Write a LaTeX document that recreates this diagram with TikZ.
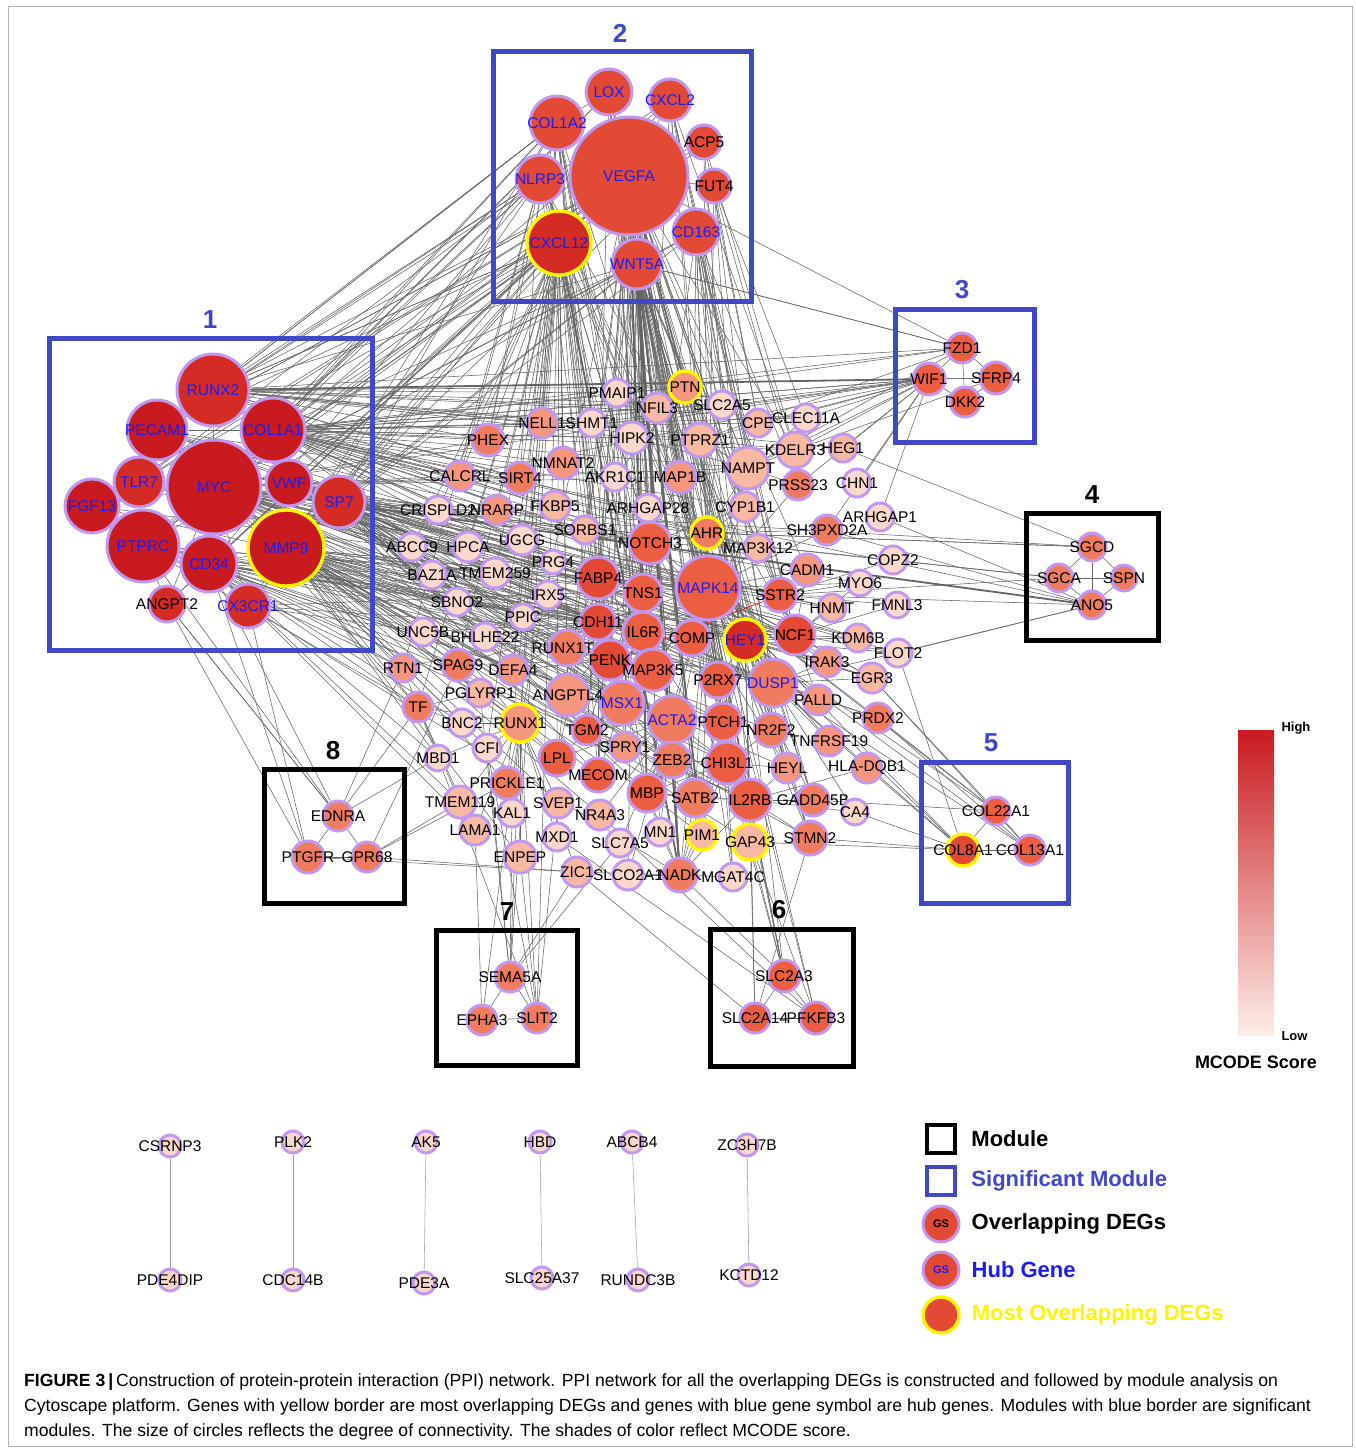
\documentclass[tikz,border=0pt]{standalone}
\usepackage{fontspec}
\setmainfont{Liberation Sans}
\usetikzlibrary{positioning}

\definecolor{modblue}{RGB}{64,72,200}
\definecolor{hubblue}{RGB}{28,28,240}
\definecolor{lav}{RGB}{192,152,240}
\definecolor{yel}{RGB}{255,245,0}
\definecolor{edgegray}{RGB}{100,100,100}
\definecolor{s1}{HTML}{C91A1F}
\definecolor{s2}{HTML}{D42B25}
\definecolor{s3}{HTML}{E24A35}
\definecolor{s4}{HTML}{EC5E42}
\definecolor{s5}{HTML}{F07C60}
\definecolor{s6}{HTML}{F4977E}
\definecolor{s7}{HTML}{F7B8A4}
\definecolor{s8}{HTML}{FAD8CC}

\pgfdeclarelayer{bg}
\pgfsetlayers{bg,main}

\begin{document}
\begin{tikzpicture}[x=1pt,y=-1pt,
    gn/.style={circle,draw=lav,line width=3pt,inner sep=0pt},
    yb/.style={draw=yel,line width=3.4pt},
    lb/.style={font=\fontsize{15.5}{17}\selectfont,inner sep=0pt},
    hublb/.style={lb,text=hubblue},
    module/.style={draw=black,line width=5pt},
    sigmodule/.style={draw=modblue,line width=5pt},
    modnum/.style={font=\bfseries\fontsize{26}{28}\selectfont},
    link/.style={draw=edgegray,line width=0.55pt},
    bond/.style={draw=edgegray,line width=1.8pt},
    legtxt/.style={font=\bfseries\fontsize{22}{24}\selectfont,anchor=west,inner sep=0pt},
    captxt/.style={font=\fontsize{17.6}{19}\selectfont,anchor=west,inner sep=0pt}]

\useasboundingbox (0,0) rectangle (1356,1448);
\draw[gray!60,line width=0.8pt] (8,6) rectangle (1352,1446);

% modules
\draw[sigmodule] (49,338) rectangle (372,650);
\draw[sigmodule] (493,51) rectangle (751,301);
\draw[sigmodule] (895,309) rectangle (1034,442);
\draw[module] (1026,513) rectangle (1158,640);
\draw[sigmodule] (921,762) rectangle (1068,903);
\draw[module] (710,929) rectangle (853,1066);
\draw[module] (436,930) rectangle (577,1065);
\draw[module] (264,769) rectangle (404,903);
\node[modnum,text=modblue] (n1) at (210,320) {1};
\node[modnum,text=modblue] (n2) at (620,33) {2};
\node[modnum,text=modblue] (n3) at (962,290) {3};
\node[modnum] (n4) at (1092,495) {4};
\node[modnum,text=modblue] (n5) at (991,743) {5};
\node[modnum] (n6) at (779,910) {6};
\node[modnum] (n7) at (507,912) {7};
\node[modnum] (n8) at (333,751) {8};

% hub genes
\foreach \g/\x/\y/\d/\c in {RUNX2/213/390/72/s2, PECAM1/157/430/60/s1,
    COL1A1/273/430/64/s1, TLR7/139/482/50/s2, MYC/214/487/94/s1,
    VWF/289/483/46/s1, SP7/339/502/52/s2, FGF13/92/506/54/s1,
    PTPRC/143/546/72/s1, CD34/209/564/56/s1, CX3CR1/248/606/44/s2,
    LOX/609/92/46/s3, CXCL2/670/100/42/s3, COL1A2/557/123/54/s3,
    VEGFA/629/176/118/s3, NLRP3/540/179/48/s3, CD163/696/232/46/s3,
    WNT5A/637/264/50/s3, MAPK14/708/588/64/s4, DUSP1/773/683/48/s5,
    MSX1/622/703/44/s5, ACTA2/672/720/48/s5}
  \node[gn,minimum size=\d,fill=\c,label={[hublb]center:\g}] (\g) at (\x,\y) {};
\foreach \g/\x/\y/\d/\c in {MMP9/286/548/76/s1, CXCL12/559/243/64/s2, HEY1/745/640/42/s2}
  \node[gn,yb,minimum size=\d,fill=\c,label={[hublb]center:\g}] (\g) at (\x,\y) {};

% most overlapping DEGs
\foreach \g/\x/\y/\d/\c in {PTN/685/387/32/s6, AHR/707/533/32/s5, RUNX1/520/723/38/s6,
    PIM1/702/835/30/s7, GAP43/750/842/36/s7, COL8A1/963/850/32/s3}
  \node[gn,yb,minimum size=\d,fill=\c,label={[lb]center:\g}] (\g) at (\x,\y) {};

% other genes
\foreach \g/\x/\y/\d/\c in {ANGPT2/167/604/36/s2, ACP5/704/142/34/s3, FUT4/714/186/34/s3,
    FZD1/962/348/30/s4, WIF1/929/379/32/s4, SFRP4/996/378/32/s4, DKK2/965/402/30/s4,
    SGCD/1092/547/28/s5, SGCA/1059/578/28/s5, SSPN/1124/578/26/s5, ANO5/1092/605/28/s5,
    COL22A1/996/811/28/s4, COL13A1/1030/850/30/s4,
    SLC2A3/784/976/32/s4, SLC2A14/755/1018/30/s4, PFKFB3/816/1018/32/s4,
    SEMA5A/510/977/30/s5, EPHA3/482/1020/30/s5, SLIT2/537/1018/30/s5,
    EDNRA/338/816/30/s5, PTGFR/308/857/32/s5, GPR68/367/857/30/s5,
    PMAIP1/617/393/28/s8, NFIL3/657/408/30/s7, NELL1/542/423/30/s6,
    SHMT1/592/423/28/s8, HIPK2/632/438/32/s8, PHEX/488/440/32/s5,
    NMNAT2/563/463/32/s6, CALCRL/460/476/30/s6, SIRT4/520/478/32/s5,
    AKR1C1/615/477/28/s8, MAP1B/680/477/32/s6, CRISPLD2/438/510/28/s8,
    NRARP/497/510/30/s6, FKBP5/555/506/30/s7, ARHGAP28/648/508/28/s8,
    SORBS1/585/530/28/s7, ABCC9/412/547/28/s8, HPCA/468/547/30/s8,
    UGCG/522/540/30/s8, NOTCH3/650/543/42/s4, PRG4/553/562/24/s8,
    SLC2A5/722/405/28/s8, CPE/758/423/28/s7, CLEC11A/806/418/28/s8,
    PTPRZ1/700/440/34/s7, KDELR3/795/450/36/s7, HEG1/843/448/28/s7,
    NAMPT/748/468/42/s7, PRSS23/798/485/30/s5, CHN1/857/483/28/s8,
    CYP1B1/745/507/30/s7, ARHGAP1/880/517/28/s8, SH3PXD2A/827/530/30/s5,
    MAP3K12/758/548/28/s7, COPZ2/893/560/28/s8, CADM1/807/570/32/s6,
    MYO6/860/583/26/s8, SSTR2/780/595/34/s4, HNMT/832/608/28/s7,
    FMNL3/897/605/26/s8, BAZ1A/432/575/28/s8, TMEM259/495/573/30/s8,
    FABP4/598/578/42/s3, TNS1/643/593/38/s4, IRX5/548/595/28/s8,
    SBNO2/457/602/28/s8, PPIC/523/617/26/s8, CDH11/598/622/36/s3,
    IL6R/643/632/40/s4, UNC5B/423/632/28/s8, BHLHE22/485/637/28/s8,
    RUNX1T1/567/648/36/s5, PENK/610/660/40/s3, COMP/692/638/36/s4,
    NCF1/795/635/40/s3, KDM6B/858/638/28/s7, FLOT2/898/653/28/s8,
    IRAK3/827/662/30/s6, MAP3K5/653/670/42/s4, RTN1/403/668/28/s6,
    SPAG9/458/665/32/s5, DEFA4/513/670/30/s6, P2RX7/718/680/36/s4,
    EGR3/872/678/30/s7, PALLD/818/700/30/s6, PRDX2/878/718/30/s5,
    PGLYRP1/480/693/28/s7, ANGPTL4/568/695/42/s6, PTCH1/723/722/38/s4,
    NR2F2/771/730/34/s5, TNFRSF19/829/741/30/s6, TF/418/707/30/s5,
    BNC2/462/723/28/s8, TGM2/587/730/30/s4, SPRY1/625/747/30/s6,
    ZEB2/672/760/36/s5, CHI3L1/727/763/42/s4, HEYL/787/768/30/s6,
    CFI/487/748/28/s8, MBD1/438/758/26/s8, LPL/557/758/36/s4,
    MECOM/598/775/34/s4, PRICKLE1/507/783/32/s5, MBP/647/793/38/s4,
    SATB2/695/798/38/s5, IL2RB/750/800/42/s4, GADD45B/813/800/32/s5,
    CA4/855/812/26/s8, TMEM119/460/802/32/s7, SVEP1/558/803/30/s7,
    KAL1/512/813/28/s8, NR4A3/600/815/30/s7, LAMA1/475/830/30/s7,
    MXD1/557/837/28/s8, SLC7A5/620/843/28/s8, MN1/660/832/28/s8,
    STMN2/810/838/34/s5, ENPEP/520/857/32/s7, ZIC1/577/872/30/s7,
    SLCO2A1/628/875/30/s8, NADK/680/875/34/s5, MGAT4C/733/877/28/s8}
  \node[gn,minimum size=\d,fill=\c,label={[lb]center:\g}] (\g) at (\x,\y) {};
\node[gn,minimum size=30,fill=s6,label={[lb]center:HLA-DQB1}] (HLADQB1) at (867,768) {};

% unconnected pairs
\foreach \g/\x/\y in {CSRNP3/170/1146, PDE4DIP/170/1280, PLK2/293/1142, CDC14B/293/1280,
    AK5/426/1142, PDE3A/424/1283, HBD/540/1142, SLC25A37/542/1278,
    ABCB4/632/1142, RUNDC3B/638/1280, ZC3H7B/747/1145, KCTD12/749/1275}
  \node[gn,minimum size=22,fill=s8,label={[lb]center:\g}] (\g) at (\x,\y) {};

\begin{pgfonlayer}{bg}
\foreach \a/\bs in {
  MYC/{RUNX2,PECAM1,COL1A1,TLR7,VWF,SP7,FGF13,PTPRC,MMP9,CD34,ANGPT2,CX3CR1,PHEX,CALCRL,SIRT4,NRARP,CRISPLD2,ABCC9,HPCA,UGCG,NOTCH3,FABP4,MAPK14,CDH11,IL6R,PENK,HEY1,DUSP1,MSX1,ACTA2,RUNX1,ANGPTL4,TF,SPAG9,BAZ1A,SBNO2,UNC5B,RTN1,IRX5,PPIC,TNS1,COMP,NCF1,SSTR2,AHR,MAP1B,NAMPT,KDM6B,EGR3,PRDX2},
  MMP9/{TMEM259,FABP4,MAPK14,TNS1,CDH11,IL6R,PENK,MAP3K5,RUNX1T1,DEFA4,PGLYRP1,BNC2,RUNX1,TGM2,MSX1,ACTA2,PTCH1,CHI3L1,ZEB2,LPL,MECOM,MBP,IL2RB,SATB2,HEY1,NCF1,COMP,P2RX7,DUSP1,SPRY1,TF,CFI,PRICKLE1,MBD1,SVEP1,NR4A3,ENPEP,GAP43,STMN2,NR2F2,PALLD,HEYL},
  COL1A1/{PHEX,NELL1,SHMT1,NMNAT2,SIRT4,CALCRL,FKBP5,SORBS1,NOTCH3,AHR,MAPK14,FABP4,TNS1,HEY1,NCF1,SSTR2,PTN,HIPK2,PTPRZ1,NAMPT,KDELR3,CYP1B1,MAP3K12,CADM1,WIF1,FZD1,IL6R,COMP,ACTA2,MSX1,AKR1C1,ARHGAP28,PMAIP1,NFIL3,SLC2A5,CPE,CLEC11A},
  VWF/{NOTCH3,FABP4,MAPK14,CDH11,IL6R,COMP,HEY1,DUSP1,ACTA2,MSX1,ANGPTL4,NCF1,EGR3,KDM6B,IRAK3,SSTR2,PALLD,PTCH1,CHI3L1,HNMT,MYO6,FLOT2},
  SP7/{UGCG,PRG4,FABP4,TNS1,MAPK14,IRX5,PPIC,CDH11,RUNX1T1,PENK,MAP3K5,DUSP1,P2RX7,ACTA2,MSX1,RUNX1,SATB2,ZEB2,MBP,MECOM,IL2RB,SGCA,COPZ2,SGCD,TGM2,ANGPTL4,DEFA4,BHLHE22,TMEM259,SORBS1},
  RUNX2/{VEGFA,CXCL12,NLRP3,COL1A2,WNT5A,PHEX,NELL1,SHMT1,PMAIP1,NFIL3,HIPK2,PTN,SLC2A5,CLEC11A,KDELR3,HEG1,FZD1,SFRP4,NOTCH3,MAPK14,AHR,SIRT4,COL1A1,PECAM1},
  CD34/{PTGFR,EDNRA,RTN1,SPAG9,UNC5B,TF,MAPK14,HEY1,IL6R,PENK,CDH11,ACTA2,COMP,NCF1,DUSP1,IL2RB,LAMA1,TMEM119,MBD1,BNC2,PGLYRP1,MMP9,PTPRC},
  PTPRC/{MAPK14,IL6R,NCF1,DUSP1,HEY1,CDH11,FABP4,ACTA2,IL2RB,MSX1,EDNRA,TF,RTN1,TLR7,FGF13},
  PECAM1/{VEGFA,CXCL12,CXCL2,MAPK14,NOTCH3,HEY1,NCF1,CALCRL,HPCA,TLR7,COL1A1},
  TLR7/{CXCL12,MAPK14,IL6R,NCF1,DUSP1,FGF13},
  CX3CR1/{CXCL12,MAPK14,PTGFR,IL6R,DUSP1,NADK,CD34,MMP9},
  ANGPT2/{VEGFA,EDNRA,PTGFR,CD34,PTPRC},
  FGF13/{MAPK14,CDH11},
  VEGFA/{LOX,CXCL2,COL1A2,ACP5,NLRP3,FUT4,CXCL12,CD163,WNT5A,MYC,MMP9,COL1A1,PECAM1,CD34,PTPRC,VWF,TLR7,FGF13,NOTCH3,MAPK14,HEY1,FABP4,CDH11,IL6R,PENK,ACTA2,MSX1,DUSP1,ANGPTL4,NCF1,COMP,P2RX7,IL2RB,CHI3L1,PTCH1,TNS1,AHR,MAP3K12,CADM1,SSTR2,HIPK2,PTN,NAMPT,CYP1B1,SATB2,ZEB2,MBP,PIM1,GAP43,STMN2,SLC2A3,LPL,MECOM,NR2F2,RUNX1,TGM2,SPRY1,KDELR3,PTPRZ1,MAP1B,HEYL,GADD45B},
  CXCL12/{MYC,MMP9,RUNX2,CD34,PTPRC,COL1A1,VWF,NOTCH3,MAPK14,FABP4,IL6R,PENK,CDH11,ACTA2,MSX1,HEY1,SIRT4,NMNAT2,PHEX,CALCRL,NELL1,NRARP,HPCA,UGCG,RUNX1T1,ANGPTL4,DEFA4,TF,RUNX1,LPL,MECOM,MBP,SEMA5A,SLIT2,CFI,PRICKLE1,CRISPLD2,ABCC9,SPAG9,TMEM259},
  WNT5A/{MYC,MMP9,COL1A1,SP7,MAPK14,NOTCH3,FABP4,TNS1,IL6R,HEY1,COMP,ACTA2,PTCH1,CHI3L1,IL2RB,SATB2,ZEB2,MBP,PIM1,GAP43,STMN2,DUSP1,NCF1,SSTR2,AHR,CYP1B1,MAP1B,ARHGAP28,SORBS1,SLC2A3,PFKFB3,MGAT4C,GADD45B,HEYL,NR2F2,P2RX7,MAP3K5,SPRY1,MECOM,FZD1,MN1,SLCO2A1},
  NLRP3/{MYC,MMP9,PTPRC,CD34,TLR7,IL6R,MAPK14,NCF1,HEY1,PHEX,CALCRL,SIRT4,NOTCH3,CDH11,DUSP1,PECAM1,RTN1},
  COL1A2/{MYC,MMP9,RUNX2,COL1A1,PECAM1,SP7,CDH11,FABP4,ACTA2,NOTCH3,PHEX,NELL1,SHMT1,MAPK14,TNS1,IL6R,PENK,DEFA4,RUNX1,LOX},
  CD163/{MYC,MMP9,PTPRC,MAPK14,NCF1,IL6R,HEY1,DUSP1,AHR,NAMPT,CYP1B1,PRSS23,SSTR2,IL2RB,COMP},
  LOX/{MYC,COL1A1,NOTCH3,MAPK14,FABP4,HEY1,ACTA2,TNS1,PTN,HIPK2},
  CXCL2/{MYC,MMP9,MAPK14,NCF1,IL6R,DUSP1,NAMPT,PTPRZ1,KDELR3,SSTR2},
  FUT4/{MAPK14,HEY1,NAMPT,CLEC11A,CPE,PRSS23},
  ACP5/{MYC,MMP9,MAPK14,CPE,SLC2A5,KDELR3},
  MAPK14/{NOTCH3,FABP4,TNS1,CDH11,IL6R,PENK,COMP,HEY1,NCF1,SSTR2,CADM1,HNMT,MYO6,KDM6B,IRAK3,DUSP1,P2RX7,MAP3K5,ACTA2,MSX1,PTCH1,NR2F2,CHI3L1,ZEB2,SATB2,IL2RB,MBP,AHR,MAP3K12,CYP1B1,NAMPT,PRSS23,SH3PXD2A,EGR3,PALLD,PRDX2,GADD45B,HEYL,STMN2,GAP43,PIM1,NADK,MGAT4C,SLC2A3,PFKFB3},
  HEY1/{NOTCH3,COMP,NCF1,DUSP1,P2RX7,PTCH1,HEYL,SATB2,IL2RB,GAP43,STMN2,PIM1,IRAK3,KDM6B,FLOT2,EGR3,TNFRSF19,COL22A1,COL8A1,COL13A1,SLC2A14},
  DUSP1/{NR2F2,TNFRSF19,HLADQB1,GADD45B,CA4,EGR3,PRDX2,IRAK3,PALLD,COL8A1,COL13A1,ANO5},
  NOTCH3/{HEYL,FABP4,TNS1,AHR,CYP1B1,MAP3K12,SORBS1,ARHGAP28,MAP1B},
  ACTA2/{MSX1,ZEB2,MBP,SATB2,CHI3L1,PTCH1,LPL,MECOM,SPRY1,TGM2,ANGPTL4,NADK,PIM1,MN1,SLC7A5,NR4A3,SLCO2A1},
  RUNX1/{BNC2,TF,PGLYRP1,CFI,MBD1,LPL,TMEM119,KAL1,LAMA1,SVEP1,SEMA5A,EPHA3,SLIT2,ZIC1,ENPEP,MXD1,PRICKLE1},
  FABP4/{CDH11,IL6R,PENK,ANGPTL4,RUNX1T1,TGM2,LPL,MECOM,MBP},
  CDH11/{PENK,RUNX1T1,DEFA4,SPAG9,RTN1,UNC5B,BHLHE22,SBNO2,BAZ1A,TMEM259,IRX5,PPIC},
  IL6R/{PENK,MAP3K5,COMP,P2RX7,IL2RB,NCF1},
  NCF1/{KDM6B,FLOT2,IRAK3,EGR3,PALLD,HNMT,SSTR2,CADM1,MYO6,FMNL3},
  SSTR2/{HNMT,MYO6,CADM1,FMNL3,COPZ2,SGCA},
  AHR/{CYP1B1,MAP3K12,SH3PXD2A,SGCD,NAMPT,PTPRZ1,SLC2A5},
  WIF1/{PHEX,NELL1,SHMT1,PTPRZ1,KDELR3,CLEC11A,HEG1,CHN1,NAMPT,PRSS23,SH3PXD2A,ARHGAP1,CPE,MYC,COL1A1,FZD1,SFRP4,DKK2,CALCRL},
  FZD1/{PTN,PTPRZ1,WNT5A,VEGFA,NAMPT,SFRP4,DKK2},
  SFRP4/{DKK2,KDELR3},
  ANO5/{COL1A1,SH3PXD2A,ARHGAP1,FLOT2,SGCA,SGCD,SSPN,SSTR2},
  SGCD/{AHR,SGCA,SSPN,HEG1},
  SGCA/{SSPN,COPZ2},
  COL22A1/{COL8A1,COL13A1,PRDX2,EGR3,GADD45B,MAPK14},
  COL8A1/{COL13A1,MAPK14,GAP43,CA4,STMN2,HLADQB1,FLOT2},
  COL13A1/{EGR3,PRDX2},
  SLC2A3/{SLC2A14,PFKFB3,HEY1,IL2RB,CHI3L1,GAP43,NADK},
  SLC2A14/{PFKFB3,IL2RB,STMN2,ZIC1},
  PFKFB3/{GAP43,NR4A3,MXD1},
  SEMA5A/{EPHA3,SLIT2,CFI,KAL1,ZIC1,SLC7A5,PGLYRP1},
  EPHA3/{SLIT2,LAMA1},
  SLIT2/{ENPEP,SVEP1,MBD1,CFI},
  EDNRA/{PTGFR,GPR68,ANGPT2,MBD1,TF,RTN1},
  PTGFR/{GPR68,ZIC1},
  GPR68/{ZIC1,SPAG9,PRICKLE1,TMEM119},
  MBP/{SATB2,IL2RB,NADK,PIM1,MN1,ZEB2,CHI3L1},
  NADK/{MGAT4C,SLCO2A1,ZIC1,IL2RB,SATB2,PTCH1,ZEB2,CHI3L1,PIM1,MN1},
  PENK/{MAP3K5,RUNX1T1,ANGPTL4,DEFA4,SPAG9,TGM2,COMP},
  NAMPT/{PTPRZ1,KDELR3,CPE,SLC2A5,PRSS23,CYP1B1,HIPK2,MAP1B,CLEC11A},
  PTN/{HIPK2,NFIL3,PMAIP1,SLC2A5,PTPRZ1,MAP1B,AKR1C1},
  IL2RB/{GADD45B,STMN2,HEYL,CHI3L1,SATB2,GAP43,CA4,HLADQB1},
  TNS1/{CDH11,IL6R,PENK,MAP3K5,ANGPTL4},
  CHI3L1/{PTCH1,SATB2,ZEB2,NR2F2,HEYL,MGAT4C},
  MSX1/{SPRY1,TGM2,ANGPTL4,RUNX1T1,ZEB2,LPL,MECOM},
  TF/{BNC2,PGLYRP1,RTN1,MBD1,TMEM119,LAMA1}}
  \foreach \b in \bs \draw[link] (\a) -- (\b);
\foreach \a/\b in {RUNX2/WIF1, MYC/ANO5, VEGFA/NADK, WNT5A/NADK, CXCL12/NADK, VEGFA/MBP, WNT5A/PIM1}
  \draw[bond] (\a) -- (\b);
\draw[red,line width=0.6pt] (PENK) -- (SSTR2);
\foreach \a/\b in {CSRNP3/PDE4DIP, PLK2/CDC14B, AK5/PDE3A, HBD/SLC25A37, ABCB4/RUNDC3B, ZC3H7B/KCTD12}
  \draw[link,edgegray!60] (\a) -- (\b);
\end{pgfonlayer}

% MCODE colour bar
\shade[top color=s1,bottom color=s8!45!white] (1238,730) rectangle (1274,1035);
\node[font=\bfseries\fontsize{13}{14}\selectfont,anchor=west] (hi) at (1278,728) {High};
\node[font=\bfseries\fontsize{13}{14}\selectfont,anchor=west] (lo) at (1278,1036) {Low};
\node[font=\bfseries\fontsize{18}{20}\selectfont] (mc) at (1256,1062) {MCODE Score};

% legend
\node[module,line width=4.5pt,minimum size=28,inner sep=0pt] (lg1) at (941,1139) {};
\node[legtxt,right=14pt of lg1] {Module};
\node[sigmodule,line width=4.5pt,minimum size=28,inner sep=0pt] (lg2) at (941,1181) {};
\node[legtxt,text=modblue,right=14pt of lg2] {Significant Module};
\node[gn,minimum size=36,fill=s3,font=\bfseries\fontsize{11}{12}\selectfont] (lg3) at (941,1224) {GS};
\node[legtxt,right=11pt of lg3] {Overlapping DEGs};
\node[gn,minimum size=36,fill=s3,text=hubblue,font=\bfseries\fontsize{11}{12}\selectfont] (lg4) at (941,1270) {GS};
\node[legtxt,text=hubblue,right=11pt of lg4] {Hub Gene};
\node[gn,yb,minimum size=36,fill=s3] (lg5) at (941,1315) {};
\node[legtxt,text=yel,right=11pt of lg5] {Most Overlapping DEGs};

% caption
\node[captxt] (cap1) at (24,1382) {{\bfseries FIGURE 3\,|}\,Construction of protein-protein interaction (PPI) network. PPI network for all the overlapping DEGs is constructed and followed by module analysis on};
\node[captxt] (cap2) at (24,1407) {Cytoscape platform. Genes with yellow border are most overlapping DEGs and genes with blue gene symbol are hub genes. Modules with blue border are significant};
\node[captxt] (cap3) at (24,1432) {modules. The size of circles reflects the degree of connectivity. The shades of color reflect MCODE score.};
\end{tikzpicture}
\end{document}
